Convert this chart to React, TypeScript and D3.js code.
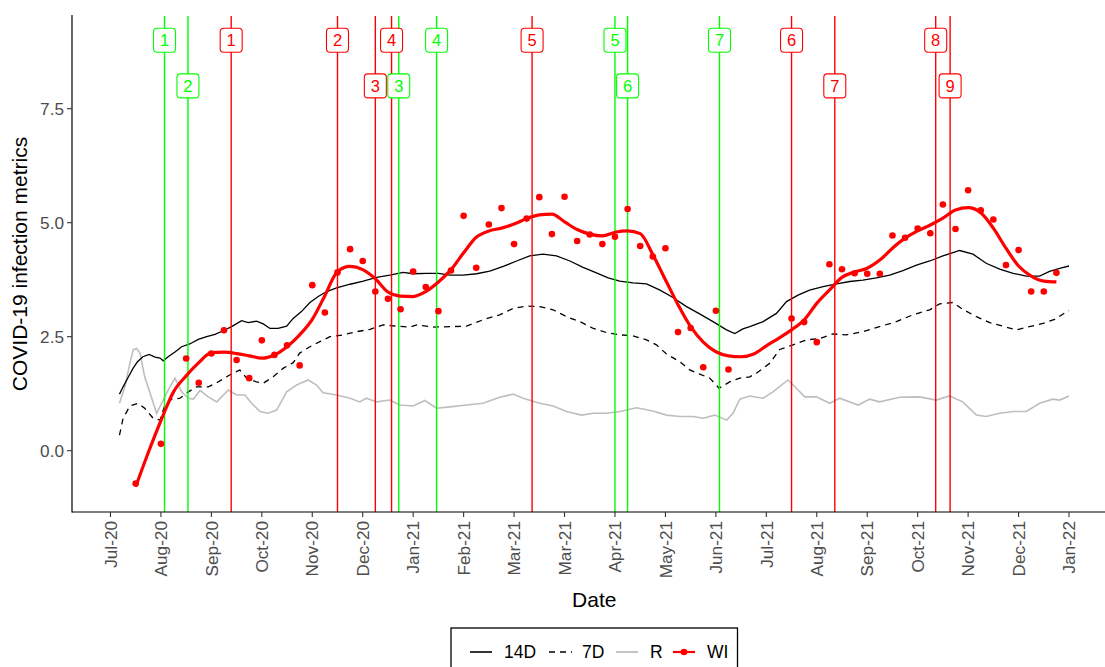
import React from "react";
import * as d3 from "d3";

// Day 0 is Monday 20 Jul 2020; every sampled series stores [day, value].
const DAY0 = Date.UTC(2020, 6, 20);
const DAY_MS = 86400000;
const fromDay = (d: number) => new Date(DAY0 + d * DAY_MS);
const fromIso = (s: string) => new Date(s + "T00:00:00Z");

const FIRST_DAY = 5; // 25 Jul 2020
const LAST_DAY = 532; // 3 Jan 2022

// 14-day metric
const series14D: [number, number][] = [
  [5, 1.24], [7, 1.4], [10, 1.62], [12.6, 1.81], [15, 1.95], [18, 2.06], [21.5, 2.11], [24.7, 2.05],
  [27.5, 2.03], [29.3, 1.97], [32, 2.06], [36, 2.17], [39.5, 2.28], [44, 2.34], [48.7, 2.44], [53.4, 2.5],
  [58, 2.55], [62.6, 2.63], [67.2, 2.72], [72.8, 2.85], [76.4, 2.81], [81, 2.84], [84.8, 2.78], [88.5, 2.68],
  [93, 2.68], [97.8, 2.73], [101.4, 2.9], [106, 3.05], [110.7, 3.25], [115.3, 3.38], [120, 3.49], [125.5, 3.57],
  [133, 3.65], [140.3, 3.72], [147.7, 3.8], [155, 3.85], [162.4, 3.91], [168, 3.88], [175.4, 3.89], [182, 3.89],
  [188.4, 3.85], [195.7, 3.85], [203.2, 3.88], [210.5, 3.94], [218, 4.04], [225.4, 4.16], [232.7, 4.27], [240, 4.31],
  [247.5, 4.27], [255, 4.16], [262.3, 4.02], [269.7, 3.9], [276.2, 3.79], [282.7, 3.72], [290, 3.68], [297.5, 3.66],
  [305, 3.52], [312.2, 3.36], [319.7, 3.16], [327, 3.0], [334.4, 2.83], [341.9, 2.65], [346.5, 2.57], [351, 2.67],
  [354.8, 2.72], [362.2, 2.83], [369.6, 3.01], [375.2, 3.27], [381.6, 3.41], [388, 3.52], [395.5, 3.6], [403, 3.66],
  [410.3, 3.71], [417.6, 3.74], [425, 3.79], [432.5, 3.85], [439.8, 3.95], [447.3, 4.07], [454.7, 4.16], [462, 4.27],
  [471.3, 4.39], [478.7, 4.31], [486, 4.11], [493.5, 3.98], [501, 3.89], [508.3, 3.83], [515.7, 3.83], [521.2, 3.93],
  [526.8, 4.0], [532, 4.05],
];

// 7-day metric
const series7D: [number, number][] = [
  [5, 0.34], [7, 0.71], [10.8, 0.98], [15.4, 1.04], [19, 0.93], [23.7, 0.71], [27.5, 0.67], [30.2, 1.0],
  [34, 1.13], [38.6, 1.15], [43.2, 1.29], [47.8, 1.4], [54.3, 1.4], [59, 1.49], [64.5, 1.62], [68, 1.7],
  [71.8, 1.77], [75.6, 1.59], [81, 1.51], [84.8, 1.48], [90.3, 1.62], [96, 1.81], [101.4, 1.93], [105, 2.14],
  [110.7, 2.28], [116.2, 2.39], [121.8, 2.5], [129.2, 2.54], [136.6, 2.61], [144, 2.66], [151.3, 2.76], [158.8, 2.73],
  [166.2, 2.71], [170, 2.76], [179, 2.71], [188.4, 2.72], [197.6, 2.73], [206.8, 2.87], [216, 2.98], [223.5, 3.12],
  [231, 3.17], [238.3, 3.16], [245.7, 3.09], [253, 2.94], [260.5, 2.83], [268, 2.68], [275.3, 2.59], [282.7, 2.54],
  [290, 2.52], [297.5, 2.43], [303, 2.32], [308.6, 2.12], [316, 1.95], [321.5, 1.77], [327, 1.68], [332.6, 1.59],
  [337.8, 1.37], [343.7, 1.51], [349.3, 1.59], [354.8, 1.62], [358.5, 1.7], [366, 1.92], [371.4, 2.22], [378.8, 2.32],
  [386.2, 2.43], [393.6, 2.46], [401, 2.56], [408.4, 2.54], [417.6, 2.61], [426.8, 2.72], [436.2, 2.83], [445.4, 2.98],
  [454.7, 3.09], [460.2, 3.22], [467.6, 3.25], [473, 3.1], [480.6, 2.94], [488, 2.81], [495.3, 2.73], [502.8, 2.65],
  [510, 2.72], [517.5, 2.79], [524, 2.88], [530, 3.03], [532, 3.07],
];

// Reproduction number R
const seriesR: [number, number][] = [
  [5, 1.04], [8, 1.4], [10.8, 1.92], [12.6, 2.21], [14.5, 2.24], [16.4, 2.14], [19, 1.62], [22, 1.26],
  [25.6, 0.82], [28.4, 1.04], [32, 1.33], [35.8, 1.59], [39.5, 1.29], [43.2, 1.15], [46, 1.13], [49.7, 1.32],
  [54.3, 1.18], [59, 1.07], [65.4, 1.33], [70, 1.22], [74.6, 1.22], [78.3, 1.04], [83, 0.86], [87.5, 0.82],
  [92.2, 0.89], [97.8, 1.29], [103.3, 1.44], [109.7, 1.55], [114.4, 1.44], [118, 1.27], [125.5, 1.22], [133, 1.15],
  [138.4, 1.07], [142, 1.15], [147.7, 1.07], [155, 1.11], [160.6, 1.0], [168, 0.98], [174.5, 1.1], [181, 0.93],
  [188.4, 0.96], [197.6, 1.0], [206.8, 1.04], [216, 1.17], [223.5, 1.24], [229, 1.15], [238.3, 1.04], [245.7, 0.98],
  [253, 0.86], [261.4, 0.78], [268, 0.82], [275.3, 0.82], [282.7, 0.86], [292, 0.94], [301, 0.87], [308.6, 0.78],
  [316, 0.75], [323.4, 0.75], [329, 0.71], [335.4, 0.78], [342, 0.67], [345.5, 0.82], [349.3, 1.13], [354.8, 1.2],
  [362.2, 1.15], [367.7, 1.29], [376, 1.55], [380.7, 1.37], [385.3, 1.18], [391.8, 1.18], [399.2, 1.04], [404.7, 1.15],
  [415, 1.0], [421.4, 1.13], [426.8, 1.07], [438, 1.17], [449, 1.18], [458.3, 1.11], [465.7, 1.2], [473, 1.07],
  [480.6, 0.78], [486, 0.75], [493.5, 0.82], [501, 0.86], [508.3, 0.86], [515.7, 1.04], [523, 1.13], [526.8, 1.11],
  [532, 1.2],
];

// Weekly WI readings, first week starting Monday 3 Aug 2020 (day 14)
const WI_FIRST_DAY = 14;
const wiObserved: (number | null)[] = [
  -0.72, null, 0.15, null, 2.02, 1.49, 2.13, 2.64, 1.99, 1.59,
  2.42, 2.1, 2.31, 1.87, 3.63, 3.03, 3.91, 4.42, 4.16, 3.49,
  3.33, 3.1, 3.93, 3.59, 3.06, 3.95, 5.15, 4.01, 4.96, 5.32,
  4.53, 5.09, 5.56, 4.75, 5.57, 4.6, 4.74, 4.53, 4.69, 5.3,
  4.49, 4.26, 4.44, 2.6, 2.69, 1.83, 3.07, 1.78, null, null,
  null, null, 2.9, 2.82, 2.38, 4.09, 3.98, 3.89, 3.88, 3.88,
  4.72, 4.67, 4.87, 4.77, 5.4, 4.86, 5.71, 5.27, 5.07, 4.07,
  4.4, 3.49, 3.49, 3.9,
];

// Smoothed WI trend, one value per week
const wiSmooth: number[] = [
  -0.79, -0.04, 0.66, 1.29, 1.64, 1.93, 2.15, 2.16, 2.13, 2.08,
  2.03, 2.1, 2.28, 2.54, 2.88, 3.4, 3.93, 4.04, 3.97, 3.77,
  3.48, 3.39, 3.38, 3.49, 3.7, 3.97, 4.34, 4.68, 4.82, 4.88,
  4.97, 5.09, 5.17, 5.19, 5.02, 4.85, 4.75, 4.71, 4.79, 4.82,
  4.76, 4.3, 3.75, 3.2, 2.72, 2.38, 2.17, 2.08, 2.06, 2.12,
  2.3, 2.47, 2.65, 2.87, 3.23, 3.52, 3.8, 3.92, 4.0, 4.18,
  4.44, 4.66, 4.82, 4.95, 5.1, 5.28, 5.33, 5.22, 4.88, 4.44,
  4.05, 3.83, 3.72, 3.7,
];

// Numbered event markers
const greenEventDates = ["2020-08-19", "2020-09-01", "2020-12-27", "2021-01-17", "2021-04-26", "2021-05-03", "2021-06-23"];
const greenEventLevels = [9, 8, 8, 9, 9, 8, 9];
const redEventDates = ["2020-09-25", "2020-11-23", "2020-12-14", "2020-12-23", "2021-03-11", "2021-08-02", "2021-08-26", "2021-10-21", "2021-10-29"];
const redEventLevels = [9, 9, 8, 9, 9, 9, 8, 9, 8];

// Axis breaks every four weeks
const xTickDays = d3.range(0, 20).map((k) => 28 * k);
const yTicks = [0, 2.5, 5, 7.5];

const legendItems = ["14D", "7D", "R", "WI"];

const GREEN = "#00FF00";
const RED = "#FF0000";
const GREY = "#BEBEBE";
const FONT = "'Liberation Sans', Arial, Helvetica, sans-serif";

export default function App() {
  const W = 1105;
  const H = 667;
  const panel = { left: 72, right: 1116.5, top: 16, bottom: 512 };

  const pad = (LAST_DAY - FIRST_DAY) * 0.05;
  const x = d3
    .scaleUtc()
    .domain([fromDay(FIRST_DAY - pad), fromDay(LAST_DAY + pad)])
    .range([panel.left, panel.right]);
  const y = d3.scaleLinear().domain([-1.345, 9.533]).range([panel.bottom, panel.top]);

  const xd = (d: number) => x(fromDay(d));
  const line = d3
    .line<[number, number]>()
    .x((p) => xd(p[0]))
    .y((p) => y(p[1]));

  const wiPts = wiObserved
    .map((v, k) => ({ day: WI_FIRST_DAY + 7 * k, v }))
    .filter((p) => p.v !== null) as { day: number; v: number }[];
  const smoothPath = d3
    .line<number>()
    .x((_, k) => xd(WI_FIRST_DAY + 7 * k))
    .y((v) => y(v))
    .curve(d3.curveMonotoneX)(wiSmooth);

  const fmt = d3.utcFormat("%b-%y");

  const events = [
    ...greenEventDates.map((d, i) => ({ date: fromIso(d), level: greenEventLevels[i], label: String(i + 1), color: GREEN })),
    ...redEventDates.map((d, i) => ({ date: fromIso(d), level: redEventLevels[i], label: String(i + 1), color: RED })),
  ];

  const legendY = 652;
  const legendKeys = [
    { x0: 470, x1: 492, tx: 504 },
    { x0: 549, x1: 572, tx: 582 },
    { x0: 616, x1: 638, tx: 650 },
    { x0: 673, x1: 695, tx: 707 },
  ];

  return (
    <svg
      width={W}
      height={H}
      style={{ position: "absolute", left: 0, top: 0, background: "#fff" }}
      fontFamily={FONT}
    >
      <defs>
        <clipPath id="panel-clip">
          <rect x={panel.left} y={panel.top} width={panel.right - panel.left} height={panel.bottom - panel.top} />
        </clipPath>
      </defs>
      <rect width={W} height={H} fill="#fff" />

      <g clipPath="url(#panel-clip)">
        <path d={line(seriesR) || ""} fill="none" stroke={GREY} strokeWidth={1.6} />
        <path d={line(series7D) || ""} fill="none" stroke="#000" strokeWidth={1.3} strokeDasharray="6 5" />
        <path d={line(series14D) || ""} fill="none" stroke="#000" strokeWidth={1.3} />

        {events.map((e, i) => (
          <line key={"v" + i} x1={x(e.date)} x2={x(e.date)} y1={panel.top} y2={panel.bottom} stroke={e.color} strokeWidth={1.4} />
        ))}

        <path d={smoothPath || ""} fill="none" stroke={RED} strokeWidth={3.2} strokeLinejoin="round" />
        {wiPts.map((p, i) => (
          <circle key={"p" + i} cx={xd(p.day)} cy={y(p.v)} r={3.3} fill={RED} />
        ))}

        {events.map((e, i) => {
          const cx = x(e.date);
          const cy = y(e.level);
          return (
            <g key={"l" + i}>
              <rect x={cx - 11} y={cy - 12} width={22} height={24} rx={3.5} fill="#fff" stroke={e.color} strokeWidth={1.1} />
              <text x={cx} y={cy} dy="0.36em" textAnchor="middle" fontSize={16.5} fill={e.color}>
                {e.label}
              </text>
            </g>
          );
        })}
      </g>

      {/* axes */}
      <line x1={panel.left} x2={panel.left} y1={panel.top - 1} y2={panel.bottom + 0.5} stroke="#000" strokeWidth={1.2} />
      <line x1={panel.left} x2={W} y1={panel.bottom} y2={panel.bottom} stroke="#000" strokeWidth={1.2} />

      {yTicks.map((t) => (
        <g key={"yt" + t}>
          <line x1={panel.left - 5} x2={panel.left} y1={y(t)} y2={y(t)} stroke="#333" strokeWidth={1.1} />
          <text x={panel.left - 8} y={y(t)} dy="0.36em" textAnchor="end" fontSize={17.2} fill="#4D4D4D">
            {d3.format(".1f")(t)}
          </text>
        </g>
      ))}

      {xTickDays.map((d) => {
        const xx = xd(d);
        return (
          <g key={"xt" + d}>
            <line x1={xx} x2={xx} y1={panel.bottom} y2={panel.bottom + 5} stroke="#333" strokeWidth={1.1} />
            <text
              transform={`translate(${xx},${panel.bottom + 9}) rotate(-90)`}
              dy="0.36em"
              textAnchor="end"
              fontSize={17.2}
              fill="#4D4D4D"
            >
              {fmt(fromDay(d))}
            </text>
          </g>
        );
      })}

      <text x={(panel.left + panel.right) / 2} y={607} textAnchor="middle" fontSize={21} fill="#000">
        Date
      </text>
      <text
        transform={`translate(27,${(panel.top + panel.bottom) / 2}) rotate(-90)`}
        textAnchor="middle"
        fontSize={21}
        fill="#000"
      >
        COVID-19 infection metrics
      </text>

      {/* legend */}
      <rect x={451} y={628} width={286.5} height={60} fill="#fff" stroke="#000" strokeWidth={1.3} />
      <line x1={legendKeys[0].x0} x2={legendKeys[0].x1} y1={legendY} y2={legendY} stroke="#000" strokeWidth={1.6} />
      <line x1={legendKeys[1].x0} x2={legendKeys[1].x1} y1={legendY} y2={legendY} stroke="#000" strokeWidth={1.6} strokeDasharray="6 5" />
      <line x1={legendKeys[2].x0} x2={legendKeys[2].x1} y1={legendY} y2={legendY} stroke={GREY} strokeWidth={1.8} />
      <line x1={legendKeys[3].x0} x2={legendKeys[3].x1} y1={legendY} y2={legendY} stroke={RED} strokeWidth={2.2} />
      <circle cx={(legendKeys[3].x0 + legendKeys[3].x1) / 2} cy={legendY} r={3.3} fill={RED} />
      {legendItems.map((name, i) => (
        <text key={name} x={legendKeys[i].tx} y={legendY} dy="0.36em" fontSize={17.5} fill="#000">
          {name}
        </text>
      ))}
    </svg>
  );
}
